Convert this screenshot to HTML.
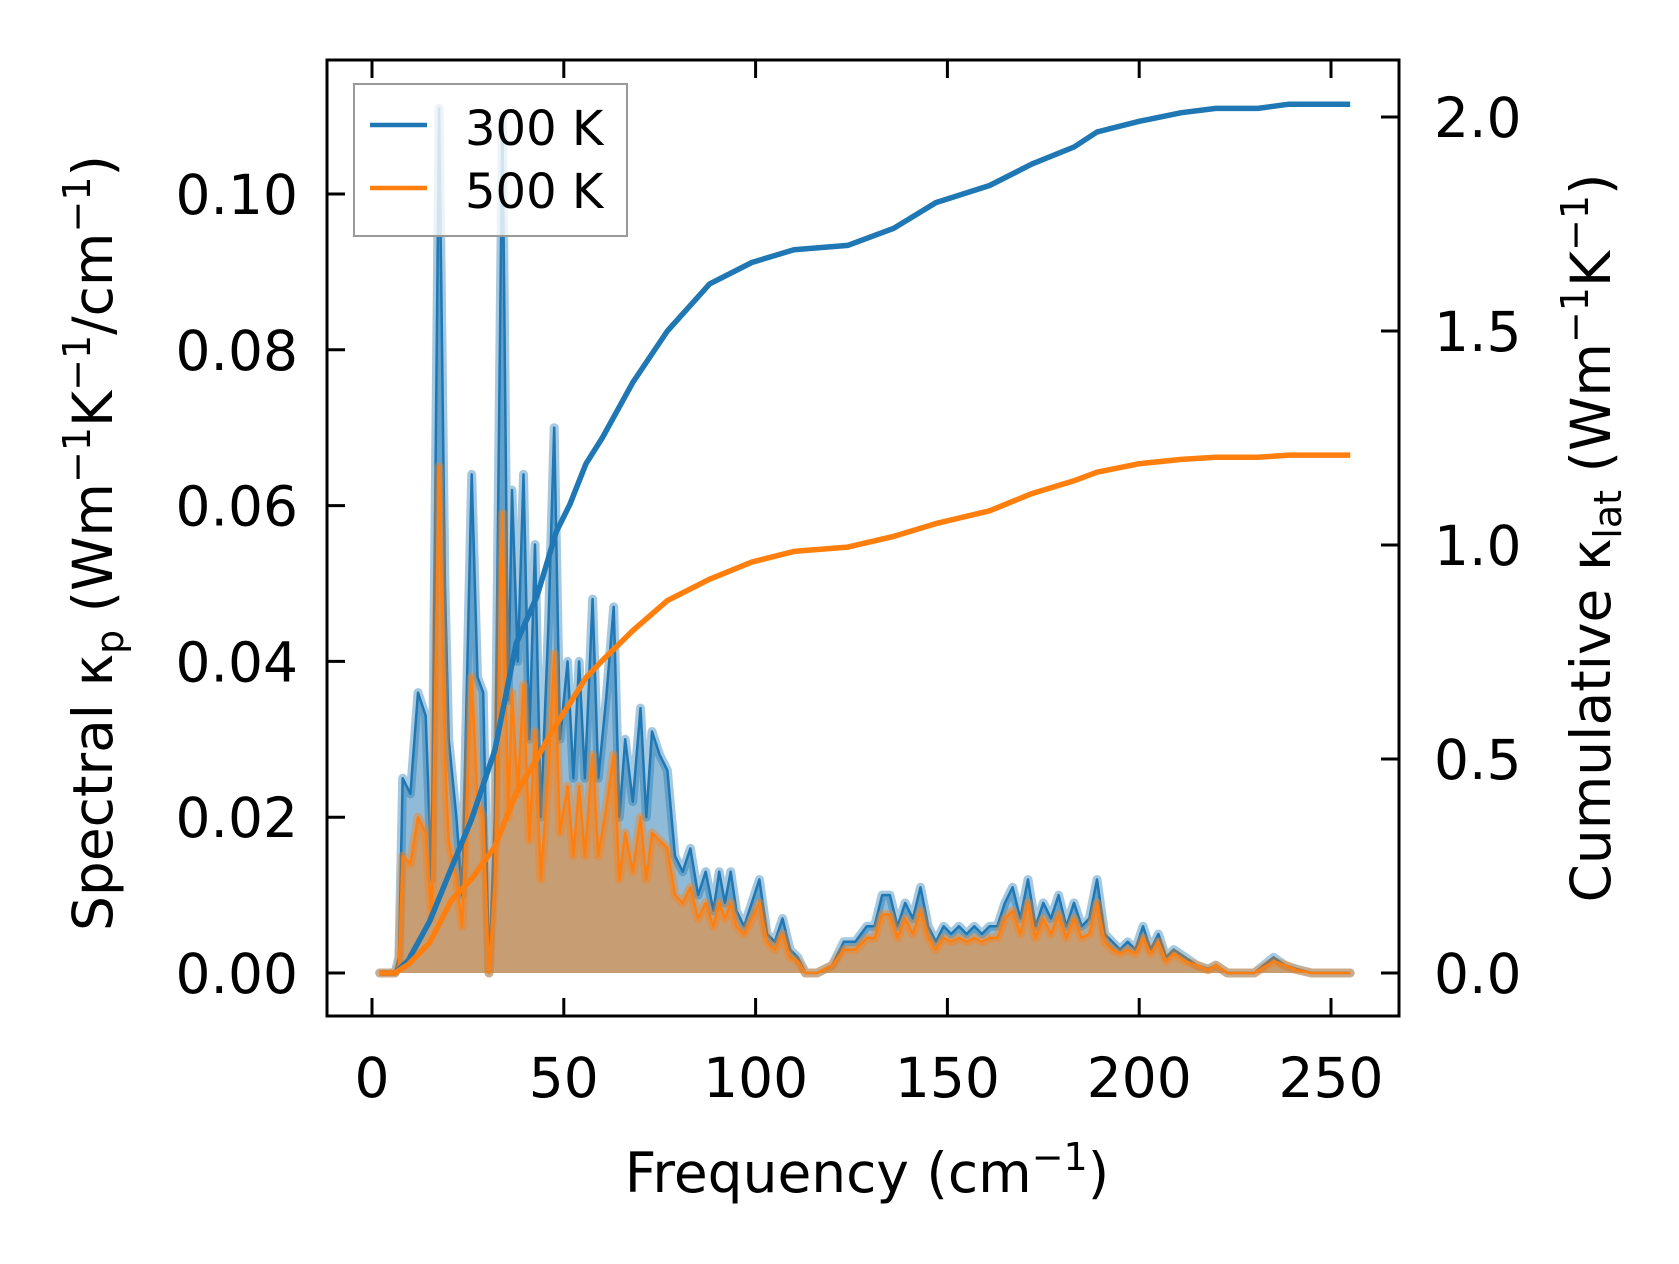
<!DOCTYPE html>
<html><head><meta charset="utf-8"><style>
html,body{margin:0;padding:0;background:#fff}
svg{display:block;font-family:"DejaVu Sans","Liberation Sans",sans-serif}
</style></head><body>
<svg id="chart" width="1679" height="1264" viewBox="0 0 1679 1264" xmlns="http://www.w3.org/2000/svg">
<rect width="1679" height="1264" fill="#fff"/>
<g id="plot"></g>
<g id="axes"></g>
</svg>
<script>
const freq = [2,6,7,8,10,12,14,15.5,17.5,19,20,22,23.5,26,27.5,29,30.5,32,34,35.5,36.5,38,39.5,41,42.5,44,46,47.5,49,51,52.5,54,55.5,57.5,59,61,63,64.5,66,68,70,71.5,73,75,77,79,81,83,85,87,89,90.5,92,93.5,95,97,99,101,103,105,107,109,111,113,116,120,123,126,129,131,133,135,137,139,141,143,145,147,149,151,153,155,157,159,161,163,165,167,169,171,173,175,177,179,181,183,185,187,189,191,193,195,197,199,201,203,205,207,209,212,215,218,220,223,230,235,238,241,245,255];
const spec300 = [0,0,0.002,0.025,0.023,0.036,0.033,0.012,0.111,0.05,0.03,0.02,0.01,0.064,0.038,0.036,0,0.02,0.11,0.035,0.062,0.04,0.064,0.03,0.055,0.02,0.045,0.07,0.03,0.04,0.025,0.04,0.025,0.048,0.025,0.035,0.047,0.02,0.03,0.022,0.034,0.02,0.031,0.028,0.026,0.015,0.013,0.016,0.01,0.013,0.008,0.013,0.009,0.013,0.008,0.006,0.009,0.012,0.005,0.004,0.007,0.003,0.002,0,0,0.001,0.004,0.004,0.006,0.006,0.01,0.01,0.006,0.009,0.007,0.011,0.006,0.004,0.006,0.005,0.006,0.005,0.006,0.005,0.006,0.006,0.009,0.011,0.007,0.012,0.006,0.009,0.007,0.01,0.006,0.009,0.006,0.007,0.012,0.005,0.004,0.003,0.004,0.003,0.006,0.003,0.005,0.002,0.003,0.002,0.001,0.0005,0.001,0,0,0.002,0.001,0.0005,0,0];
const spec500 = [0,0,0.001,0.015,0.014,0.02,0.018,0.007,0.065,0.028,0.017,0.012,0.006,0.038,0.022,0.02,0,0.012,0.059,0.02,0.036,0.023,0.037,0.017,0.031,0.012,0.026,0.041,0.018,0.024,0.015,0.024,0.015,0.028,0.015,0.021,0.028,0.012,0.018,0.013,0.02,0.012,0.018,0.017,0.016,0.01,0.009,0.011,0.007,0.009,0.006,0.009,0.007,0.009,0.006,0.005,0.007,0.009,0.004,0.003,0.005,0.002,0.0015,0,0,0.001,0.003,0.003,0.0045,0.0045,0.0075,0.0075,0.0045,0.007,0.005,0.008,0.0045,0.003,0.0045,0.004,0.0045,0.004,0.0045,0.004,0.0045,0.0045,0.007,0.008,0.005,0.009,0.0045,0.007,0.005,0.0075,0.0045,0.007,0.0045,0.005,0.009,0.004,0.003,0.0025,0.003,0.0025,0.0045,0.0025,0.004,0.0015,0.0025,0.0015,0.001,0.0004,0.001,0,0,0.0015,0.001,0.0004,0,0];
const cumFreq = [2,6,9.5,15,20.7,26,32,37.6,43,46,48,51.6,55.8,60,68,77,88,99,110,124,136,147,161,172,183,189,200,211,220,231,239,255];
const cum300 = [0,0,0.03,0.12,0.245,0.36,0.52,0.77,0.88,0.97,1.03,1.095,1.19,1.25,1.38,1.5,1.61,1.66,1.69,1.70,1.74,1.80,1.84,1.89,1.93,1.965,1.99,2.01,2.02,2.02,2.03,2.03];
const cum500 = [0,0,0.02,0.07,0.17,0.22,0.295,0.42,0.5,0.55,0.58,0.63,0.69,0.73,0.8,0.87,0.92,0.96,0.985,0.995,1.02,1.05,1.08,1.12,1.15,1.17,1.19,1.20,1.205,1.205,1.21,1.21];
const xTicks = [0,50,100,150,200,250];
const yLeftTicks = [0,0.02,0.04,0.06,0.08,0.10];
const yLeftLabels = ["0.00","0.02","0.04","0.06","0.08","0.10"];
const yRightTicks = [0,0.5,1.0,1.5,2.0];
const yRightLabels = ["0.0","0.5","1.0","1.5","2.0"];

const L=327,R=1399,T=60,B=1016;
const X = f => 372 + f*(1331-372)/250;
const YL = v => 973 - v*7790;
const YR = v => 973 - v*428;
const NS="http://www.w3.org/2000/svg";
const plot=document.getElementById('plot'), axes=document.getElementById('axes');
function mk(tag,attrs,parent){const e=document.createElementNS(NS,tag);for(const k in attrs)e.setAttribute(k,attrs[k]);parent.appendChild(e);return e;}
function linePath(xs,ys,fy){return xs.map((f,i)=>(i?'L':'M')+X(f).toFixed(1)+','+fy(ys[i]).toFixed(1)).join(' ');}
function areaPath(xs,ys,fy){return linePath(xs,ys,fy)+' L'+X(xs[xs.length-1]).toFixed(1)+','+fy(0)+' L'+X(xs[0]).toFixed(1)+','+fy(0)+' Z';}

[[spec300,'#1f77b4','300k'],[spec500,'#ff7f0e','500k']].forEach(([d,c,n])=>{
  const a=mk('path',{d:areaPath(freq,d,YL),fill:c,'fill-opacity':0.5,stroke:'none'},plot);
  
  
  const h=mk('path',{d:linePath(freq,d,YL),fill:'none',stroke:c,'stroke-opacity':0.4,'stroke-width':9,'stroke-linejoin':'round','stroke-linecap':'round'},plot);
  
  
  const l=mk('path',{d:linePath(freq,d,YL),fill:'none',stroke:c,'stroke-width':2.5,'stroke-linejoin':'round'},plot);
  
  
});
[[cum300,'#1f77b4','300k'],[cum500,'#ff7f0e','500k']].forEach(([d,c,n])=>{
  const l=mk('path',{d:linePath(cumFreq,d,YR),fill:'none',stroke:c,'stroke-width':5.5,'stroke-linejoin':'round'},plot);
  
  
});

const fr=mk('rect',{x:L,y:T,width:R-L,height:B-T,fill:'none',stroke:'#000','stroke-width':3},axes);


const TL=18;
xTicks.forEach(t=>{
  const x=X(t);
  mk('line',{x1:x,x2:x,y1:B,y2:B-TL,stroke:'#000','stroke-width':3},axes);
  mk('line',{x1:x,x2:x,y1:T,y2:T+TL,stroke:'#000','stroke-width':3},axes);
  const tx=mk('text',{x:x,y:1097,'font-size':55,'text-anchor':'middle',fill:'#000'},axes);
  tx.textContent=t;
  
  
});
yLeftTicks.forEach((t,i)=>{
  const y=YL(t);
  mk('line',{x1:L,x2:L+TL,y1:y,y2:y,stroke:'#000','stroke-width':3},axes);
  const tx=mk('text',{x:298,y:y+20,'font-size':55,'text-anchor':'end',fill:'#000'},axes);
  tx.textContent=yLeftLabels[i];
  
  
});
yRightTicks.forEach((t,i)=>{
  const y=YR(t);
  mk('line',{x1:R,x2:R-TL,y1:y,y2:y,stroke:'#000','stroke-width':3},axes);
  const tx=mk('text',{x:1434,y:y+20,'font-size':55,'text-anchor':'start',fill:'#000'},axes);
  tx.textContent=yRightLabels[i];
  
  
});
</script>
<svg style="position:absolute;left:0;top:0" width="1679" height="1264" xmlns="http://www.w3.org/2000/svg" font-family="DejaVu Sans, Liberation Sans, sans-serif">
<g>
<rect x="354" y="84" width="273" height="152" fill="#fff" fill-opacity="0.8" stroke="#999" stroke-width="2"/>
<line x1="370" y1="125" x2="427" y2="125" stroke="#1f77b4" stroke-width="4.5"/>
<line x1="370" y1="188" x2="427" y2="188" stroke="#ff7f0e" stroke-width="4.5"/>
<text x="465" y="145" font-size="48">300 K</text>
<text x="465" y="208" font-size="48">500 K</text>
</g>
<text x="867" y="1192" font-size="55" text-anchor="middle">Frequency (cm<tspan dy="-22" font-size="38">−1</tspan><tspan dy="22">)</tspan></text>
<text transform="translate(112,543) rotate(-90)" font-size="55" text-anchor="middle">Spectral κ<tspan dy="11" font-size="38">p</tspan><tspan dy="-11"> (Wm</tspan><tspan dy="-22" font-size="38">−1</tspan><tspan dy="22">K</tspan><tspan dy="-22" font-size="38">−1</tspan><tspan dy="22">/cm</tspan><tspan dy="-22" font-size="38">−1</tspan><tspan dy="22">)</tspan></text>
<text transform="translate(1610,538) rotate(-90)" font-size="55" text-anchor="middle">Cumulative κ<tspan dy="11" font-size="38">lat</tspan><tspan dy="-11"> (Wm</tspan><tspan dy="-22" font-size="38">−1</tspan><tspan dy="22">K</tspan><tspan dy="-22" font-size="38">−1</tspan><tspan dy="22">)</tspan></text>
</svg>
</body></html>
